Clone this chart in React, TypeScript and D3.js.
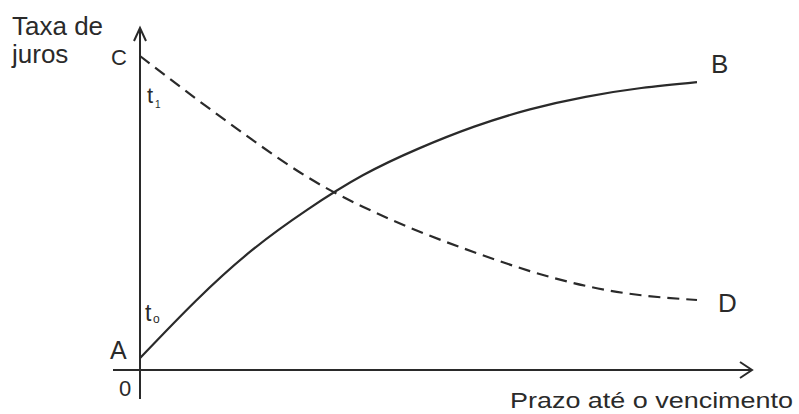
import React from "react";
import * as d3 from "d3";

const prazo = [0, 1, 2, 3, 4, 5, 6, 7, 8, 9, 10];
const curvaAB = [0.38, 2.2, 3.8, 5.1, 6.2, 7.05, 7.75, 8.3, 8.7, 8.98, 9.17];
const curvaCD = [10, 8.65, 7.35, 6.15, 5.2, 4.42, 3.75, 3.15, 2.68, 2.38, 2.23];

export default function App() {
  const W = 799;
  const H = 414;
  const x = d3.scaleLinear().domain([0, 10]).range([140, 697]);
  const y = d3.scaleLinear().domain([0, 10]).range([370, 56]);
  const line = d3
    .line<number>()
    .x((_, i) => x(prazo[i]))
    .y((d) => y(d))
    .curve(d3.curveNatural);

  const font = "'Liberation Sans', Arial, sans-serif";
  const ink = "#2a2a2a";
  const x0 = x(0);
  const y0 = y(0);

  return (
    <div style={{ position: "absolute", left: 0, top: 0 }}>
      <svg width={W} height={H} viewBox={`0 0 ${W} ${H}`} style={{ display: "block", background: "#fff" }}>
        {/* axes */}
        <g stroke={ink} strokeWidth={2} fill="none">
          <line x1={x0} y1={28} x2={x0} y2={399} />
          <line x1={113} y1={y0} x2={752} y2={y0} />
          <polyline points={`${x0 - 6},${41} ${x0},${28} ${x0 + 6},${41}`} strokeLinejoin="miter" />
          <polyline points={`${740},${y0 - 8} ${752},${y0} ${740},${y0 + 8}`} strokeLinejoin="miter" />
        </g>
        {/* curves */}
        <path d={line(curvaAB) || ""} fill="none" stroke={ink} strokeWidth={2.2} />
        <path d={line(curvaCD) || ""} fill="none" stroke={ink} strokeWidth={2.2} strokeDasharray="12,7" />
        {/* labels */}
        <g fill={ink} fontFamily={font}>
          <text x={12} y={35} fontSize={26}>Taxa de</text>
          <text x={12} y={63} fontSize={26}>juros</text>
          <text x={111} y={65} fontSize={22}>C</text>
          <text x={110} y={359} fontSize={25}>A</text>
          <text x={119} y={396} fontSize={22}>0</text>
          <text x={711} y={73} fontSize={26}>B</text>
          <text x={718} y={312} fontSize={26}>D</text>
          <text x={147} y={103} fontSize={22}>t</text>
          <text x={155} y={108} fontSize={10}>1</text>
          <text x={145} y={321} fontSize={23}>t</text>
          <text x={153} y={323} fontSize={12}>o</text>
          <text x={510} y={408} fontSize={22} textLength={283} lengthAdjust="spacingAndGlyphs">
            Prazo até o vencimento
          </text>
        </g>
      </svg>
    </div>
  );
}
